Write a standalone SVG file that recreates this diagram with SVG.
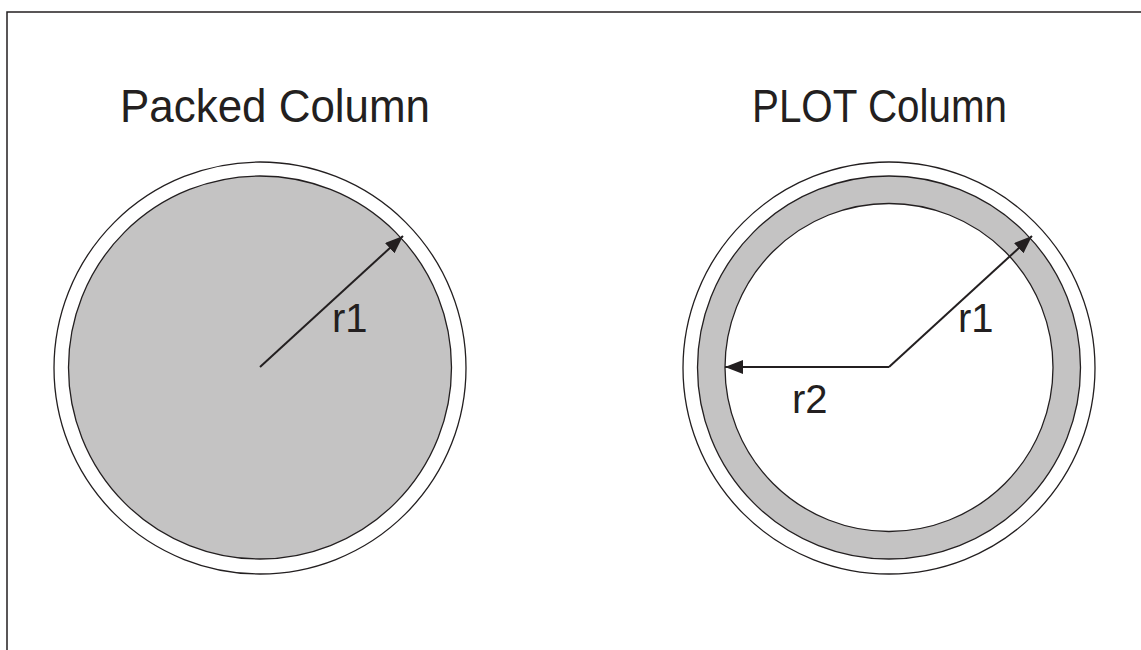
<svg xmlns="http://www.w3.org/2000/svg" width="1141" height="650" viewBox="0 0 1141 650">
<style>
.t{font-family:"Liberation Sans",Arial,sans-serif;fill:#231f20}
.ttl{font-size:46px}
.lbl{font-size:40px}
.ln{fill:none;stroke:#231f20;stroke-width:1.3}
.arr{stroke:#231f20;stroke-width:2;fill:none;marker-end:url(#ah)}
</style>
<defs>
<marker id="ah" viewBox="0 0 18 14" refX="18" refY="7" markerWidth="18" markerHeight="14" markerUnits="userSpaceOnUse" orient="auto">
<path d="M0,0 L18,7 L0,14 z" fill="#231f20"/>
</marker>
</defs>
<rect width="1141" height="650" fill="#fff"/>
<path d="M7,650 V12 H1141" fill="none" stroke="#231f20" stroke-width="1.5"/>
<g id="packed-column">
<text class="t ttl" x="120" y="122" textLength="310" lengthAdjust="spacingAndGlyphs">Packed Column</text>
<circle class="ln" cx="260" cy="368" r="206"/>
<circle cx="260" cy="367.5" r="191.5" fill="#c4c3c3" stroke="#231f20" stroke-width="1.3"/>
<text class="t lbl" x="332" y="332">r1</text>
</g>
<g id="plot-column">
<text class="t ttl" x="752" y="122" textLength="255" lengthAdjust="spacingAndGlyphs">PLOT Column</text>
<circle class="ln" cx="889" cy="368" r="206"/>
<circle cx="889" cy="367.5" r="191.5" fill="#c4c3c3" stroke="#231f20" stroke-width="1.3"/>
<circle cx="889" cy="367.5" r="164" fill="#fff" stroke="#231f20" stroke-width="1.3"/>
<text class="t lbl" x="958" y="332">r1</text>
<text class="t lbl" x="792" y="413">r2</text>
</g>
<g id="connectors">
<line class="arr" x1="260" y1="367" x2="403" y2="236"/>
<line class="arr" x1="889" y1="367" x2="1032" y2="236"/>
<line class="arr" x1="889" y1="367" x2="725" y2="367"/>
</g>
</svg>
